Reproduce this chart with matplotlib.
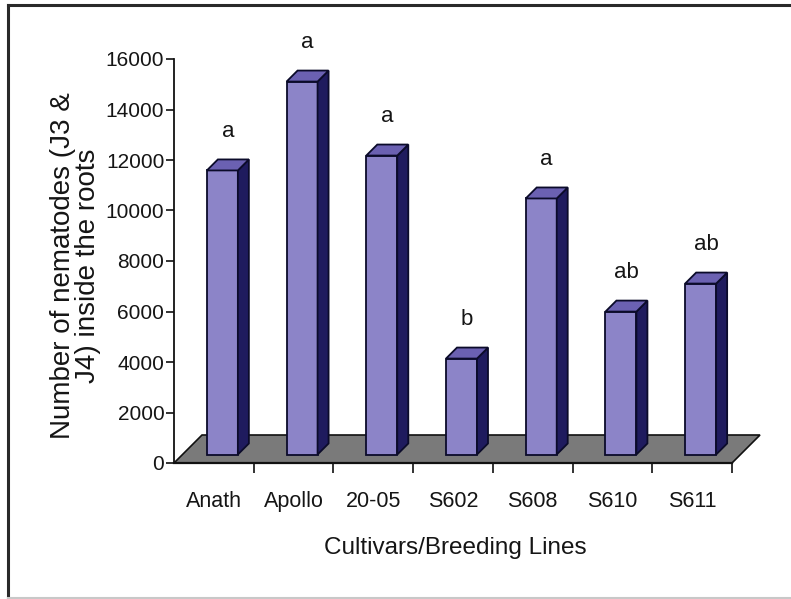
import matplotlib
matplotlib.use("Agg")
import matplotlib.pyplot as plt
from matplotlib.patches import Polygon
from matplotlib.lines import Line2D

# Data
cultivars = ["Anath", "Apollo", "20-05", "S602", "S608", "S610", "S611"]
nematodes = [11250, 14770, 11840, 3800, 10140, 5660, 6770]
groups = ["a", "a", "a", "b", "a", "ab", "ab"]
y_ticks = [0, 2000, 4000, 6000, 8000, 10000, 12000, 14000, 16000]

W, H, DPI = 791, 599, 100
fig = plt.figure(figsize=(W / DPI, H / DPI), dpi=DPI)
fig.patch.set_facecolor("white")

narrow = ["Liberation Sans Narrow", "Liberation Sans", "DejaVu Sans"]
regular = ["Liberation Sans", "DejaVu Sans"]
txt_col = "#151515"

# axes placed in pixel terms
x0, x1 = 174, 732
y0, y1 = 463, 59
ax = fig.add_axes([x0 / W, (H - y0) / H, (x1 - x0) / W, (y0 - y1) / H])
n = len(cultivars)
ax.set_xlim(0, n)
ax.set_ylim(0, 16000)
ax.patch.set_alpha(0)

px_x = (x1 - x0) / n          # pixels per category
px_y = (y0 - y1) / 16000.0    # pixels per unit value

# oblique depth in pixels
depth_px = 28
def off(d):
    return d / px_x, d / px_y

# floor
fx, fy = off(depth_px)
floor = Polygon([(0, 0), (n, 0), (n + fx, fy), (fx, fy)], closed=True,
                facecolor="#7a7a7a", edgecolor="#111111", lw=1.2,
                clip_on=False, zorder=1)
ax.add_patch(floor)

# bars
bw = 31 / px_x
d_front, d_back = 8.5, 19.5
front_c, side_c, top_c, edge_c = "#8c84c8", "#1f1b5e", "#6b61b2", "#0b0b2a"
for i, (v, g) in enumerate(zip(nematodes, groups)):
    ox0, oy0 = off(d_front)
    ox1, oy1 = off(d_back)
    cx = i + 0.5
    l, r = cx - bw / 2 + ox0, cx + bw / 2 + ox0
    b, t = oy0, oy0 + v
    dx, dy = ox1 - ox0, oy1 - oy0
    front = Polygon([(l, b), (r, b), (r, t), (l, t)], closed=True,
                    facecolor=front_c, edgecolor=edge_c, lw=1.3, zorder=3, clip_on=False)
    side = Polygon([(r, b), (r + dx, b + dy), (r + dx, t + dy), (r, t)], closed=True,
                   facecolor=side_c, edgecolor=edge_c, lw=1.3, zorder=3, clip_on=False)
    top = Polygon([(l, t), (r, t), (r + dx, t + dy), (l + dx, t + dy)], closed=True,
                  facecolor=top_c, edgecolor=edge_c, lw=1.3, zorder=3, clip_on=False)
    for p in (front, side, top):
        ax.add_patch(p)
    mx = cx + (ox0 + ox1) / 2
    ax.text(mx, t + 39 / px_y, g, ha="center", va="center", fontsize=16,
            family=narrow, color=txt_col, clip_on=False, zorder=5)

# axes styling
for s in ("top", "right"):
    ax.spines[s].set_visible(False)
ax.spines["left"].set_linewidth(1.3)
ax.spines["bottom"].set_linewidth(1.6)
ax.spines["left"].set_color("#111111")
ax.spines["bottom"].set_color("#111111")
ax.spines["bottom"].set_zorder(4)

ax.set_yticks(y_ticks)
ax.set_yticklabels([str(t) for t in y_ticks], family=narrow, fontsize=15, color=txt_col)
ax.tick_params(axis="y", direction="out", length=6, width=1.2, pad=1, colors="#111111",
               labelcolor=txt_col)

ax.set_xticks(range(1, n + 1))
ax.set_xticklabels([])
ax.set_xticks([i + 0.5 for i in range(n)], minor=True)
ax.set_xticklabels(cultivars, minor=True, family=narrow, fontsize=15.5, color=txt_col)
ax.tick_params(axis="x", which="major", direction="out", length=7, width=1.2, colors="#111111")
ax.tick_params(axis="x", which="minor", length=0, pad=20)

fig.text(455 / W, 1 - 548 / H, "Cultivars/Breeding Lines", ha="center", va="center",
         fontsize=17.5, family=narrow, color=txt_col)
fig.text(76 / W, 1 - 266 / H, "Number of nematodes (J3 &\nJ4) inside the roots",
         rotation=90, ha="center", va="center", multialignment="center",
         fontsize=20, family=regular, color=txt_col, linespacing=0.95)

# outer frame
fig.add_artist(Line2D([7.5 / W, 7.5 / W], [1 - 4.5 / H, 1 - 597 / H], transform=fig.transFigure,
                      color="#2a2a2a", lw=2.2))
fig.add_artist(Line2D([7.5 / W, 1.0], [1 - 4.5 / H, 1 - 4.5 / H], transform=fig.transFigure,
                      color="#2a2a2a", lw=2.2))
fig.add_artist(Line2D([7.5 / W, 1.0], [1 - 597.5 / H, 1 - 597.5 / H], transform=fig.transFigure,
                      color="#c8c8c8", lw=1.5))

fig.savefig("out.png", dpi=DPI, facecolor="white")
